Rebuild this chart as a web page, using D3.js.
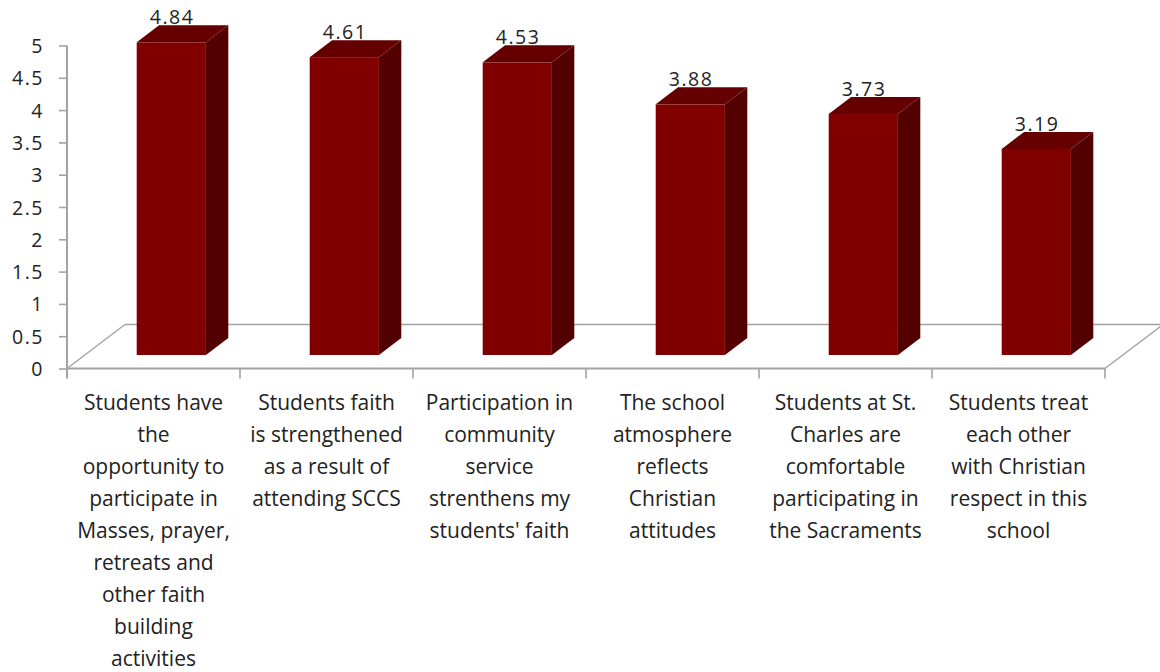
<!DOCTYPE html>
<html>
<head>
<meta charset="utf-8">
<script src="https://cdn.jsdelivr.net/npm/d3@7"></script>
<style>
  html, body { margin: 0; padding: 0; background: #fff; }
  svg { display: block; }
  text { font-family: "Open Sans", "Liberation Sans", sans-serif; fill: #222; }
</style>
</head>
<body>
<svg id="chart" width="1160" height="672"></svg>
<script>
// Survey statements (category labels, pre-wrapped into lines)
const categories = [
  ["Students have", "the", "opportunity to", "participate in", "Masses, prayer,", "retreats and", "other faith", "building", "activities"],
  ["Students faith", "is strengthened", "as a result of", "attending SCCS"],
  ["Participation in", "community", "service", "strenthens my", "students' faith"],
  ["The school", "atmosphere", "reflects", "Christian", "attitudes"],
  ["Students at St.", "Charles are", "comfortable", "participating in", "the Sacraments"],
  ["Students treat", "each other", "with Christian", "respect in this", "school"]
];

// Mean rating per statement
const values = [4.84, 4.61, 4.53, 3.88, 3.73, 3.19];

// Value-axis ticks
const yTicks = [0, 0.5, 1, 1.5, 2, 2.5, 3, 3.5, 4, 4.5, 5];

const svg = d3.select("#chart");

// Plot geometry: front edge of the floor and the depth vector of the 3D box
const plotLeft = 67, plotRight = 1105;
const floorY = 368.5, topY = 45.5;
const depth = { dx: 58, dy: -44 };
const barFront = 0.307, barBack = 0.693;   // bar depth inside the floor (fractions)
const barWidthRatio = 0.4;

const x = d3.scaleBand()
  .domain(d3.range(categories.length))
  .range([plotLeft, plotRight])
  .paddingInner(0).paddingOuter(0);

const y = d3.scaleLinear().domain([0, 5]).range([floorY, topY]);

const axisColor = "#a3a3a3";

// Floor (back edge and side diagonals)
const floor = svg.append("g").attr("fill", "none").attr("stroke", axisColor);
floor.append("line")
  .attr("x1", plotLeft + depth.dx).attr("y1", floorY + depth.dy)
  .attr("x2", plotRight + depth.dx).attr("y2", floorY + depth.dy)
  .attr("stroke-width", 1.4);
floor.append("line")
  .attr("x1", plotLeft).attr("y1", floorY)
  .attr("x2", plotLeft + depth.dx).attr("y2", floorY + depth.dy)
  .attr("stroke-width", 1.4);
floor.append("line")
  .attr("x1", plotRight).attr("y1", floorY)
  .attr("x2", plotRight + depth.dx).attr("y2", floorY + depth.dy)
  .attr("stroke-width", 1.4);

// Value axis
const yAxis = d3.axisLeft(y)
  .tickValues(yTicks)
  .tickSize(8)
  .tickSizeOuter(0)
  .tickPadding(15)
  .tickFormat(d => String(d));

const yg = svg.append("g")
  .attr("transform", `translate(${plotLeft},0)`)
  .call(yAxis);
yg.select(".domain").remove();
yg.selectAll(".tick line").attr("stroke", axisColor).attr("stroke-width", 1.6);
yg.selectAll(".tick text")
  .attr("font-size", 19.5)
  .attr("letter-spacing", 1.5)
  .attr("font-family", "Open Sans")
  .attr("fill", "#222")
  .attr("dy", "0.36em");

svg.append("line")
  .attr("x1", plotLeft).attr("x2", plotLeft)
  .attr("y1", y(5)).attr("y2", floorY + 10)
  .attr("stroke", axisColor).attr("stroke-width", 2);

// Category axis: front edge of the floor and boundary ticks
svg.append("line")
  .attr("x1", plotLeft).attr("x2", plotRight)
  .attr("y1", floorY).attr("y2", floorY)
  .attr("stroke", axisColor).attr("stroke-width", 2);

const boundaries = x.domain().map(i => x(i)).concat([plotRight]);
svg.append("g").selectAll("line")
  .data(boundaries)
  .join("line")
  .attr("x1", d => d).attr("x2", d => d)
  .attr("y1", floorY).attr("y2", floorY + 10)
  .attr("stroke", axisColor).attr("stroke-width", 1.6);

// 3D bars
const bw = x.bandwidth() * barWidthRatio;
const fdx = depth.dx * barFront, fdy = depth.dy * barFront;
const ddx = depth.dx * (barBack - barFront), ddy = depth.dy * (barBack - barFront);

const bars = svg.append("g").selectAll("g")
  .data(values)
  .join("g");

bars.each(function (v, i) {
  const g = d3.select(this);
  const cx = x(i) + x.bandwidth() / 2 + fdx;
  const x0 = cx - bw / 2, x1 = cx + bw / 2;
  const yb = y(0) + fdy, yt = y(v) + fdy;

  // side face
  g.append("path")
    .attr("d", `M${x1},${yt} L${x1 + ddx},${yt + ddy} L${x1 + ddx},${yb + ddy} L${x1},${yb} Z`)
    .attr("fill", "#530000");
  // top face
  g.append("path")
    .attr("d", `M${x0},${yt} L${x0 + ddx},${yt + ddy} L${x1 + ddx},${yt + ddy} L${x1},${yt} Z`)
    .attr("fill", "#650000");
  // front face
  g.append("rect")
    .attr("x", x0).attr("y", yt)
    .attr("width", bw).attr("height", yb - yt)
    .attr("fill", "#800000");

  // value label
  g.append("text")
    .attr("x", cx + 0.75)
    .attr("y", yt + ddy - 1)
    .attr("text-anchor", "middle")
    .attr("font-size", 19.5)
    .attr("letter-spacing", 1.5)
    .text(v.toFixed(2));
});

// Category labels
const lineHeight = 32;
svg.append("g").selectAll("text")
  .data(categories)
  .join("text")
  .attr("text-anchor", "middle")
  .attr("font-size", 21)
  .each(function (lines, i) {
    const t = d3.select(this);
    const cx = x(i) + x.bandwidth() / 2;
    lines.forEach((ln, k) => {
      t.append("tspan")
        .attr("x", cx)
        .attr("y", 410 + k * lineHeight)
        .text(ln);
    });
  });
</script>
</body>
</html>
